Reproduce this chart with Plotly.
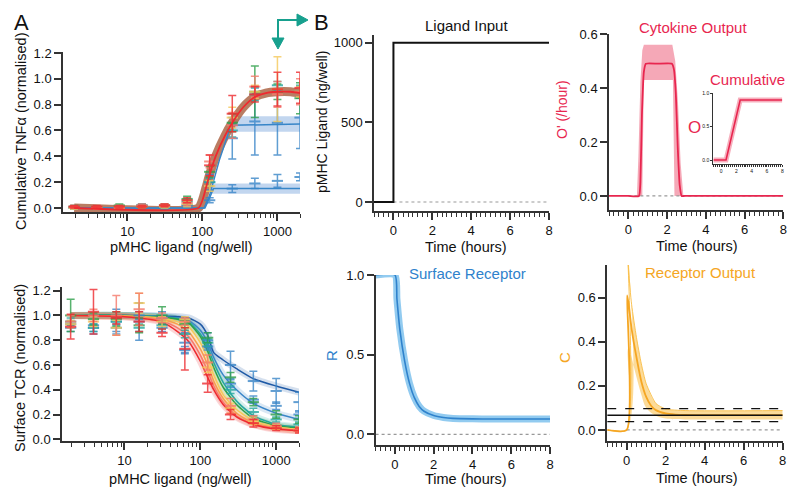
import plotly.graph_objects as go

W, H = 800, 500
OFF = 8  # page body margin offset
def px(x): return (x - OFF) / W
def py(y): return 1 - (y - OFF) / H

FONT = "Liberation Sans, Arial, sans-serif"

# ---------------- Panel A data ----------------
doses = [1.95, 3.9, 7.8, 15.6, 31.25, 62.5, 125, 250, 500, 1000, 2000]

# Cumulative TNFa error bars
tnf_red_m    = [0.01, 0.01, 0.01, 0.01, 0.02, 0.06, 0.33, 0.73, 0.88, 0.92, 0.93]
tnf_red_e    = [0.01, 0.01, 0.01, 0.01, 0.01, 0.02, 0.08, 0.14, 0.06, 0.13, 0.12]
tnf_salmon_m = [0.01, 0.00, 0.01, 0.02, 0.02, 0.04, 0.36, 0.64, 0.94, 0.88, 0.90]
tnf_salmon_e = [0.01, 0.01, 0.01, 0.01, 0.01, 0.02, 0.05, 0.10, 0.08, 0.10, 0.10]
tnf_yellow_m = [0.00, 0.00, 0.00, 0.01, 0.01, 0.03, 0.17, 0.70, 0.90, 0.92, 0.90]
tnf_yellow_e = [0.01, 0.01, 0.01, 0.01, 0.01, 0.02, 0.04, 0.08, 0.05, 0.25, 0.04]
tnf_green_m  = [0.01, 0.00, 0.02, 0.01, 0.02, 0.07, 0.28, 0.66, 0.90, 0.90, 0.85]
tnf_green_e  = [0.01, 0.01, 0.01, 0.01, 0.01, 0.02, 0.04, 0.07, 0.20, 0.06, 0.12]
tnf_teal_m   = [0.01, 0.00, 0.01, 0.02, 0.01, 0.05, 0.20, 0.60, 0.88, 0.95, 0.90]
tnf_teal_e   = [0.01, 0.01, 0.01, 0.01, 0.01, 0.02, 0.03, 0.05, 0.05, 0.03, 0.05]
tnf_blue1_m  = [0.00, 0.00, 0.00, 0.02, 0.00, 0.02, 0.20, 0.54, 0.67, 0.66, 0.70]
tnf_blue1_e  = [0.01, 0.01, 0.01, 0.01, 0.01, 0.01, 0.06, 0.16, 0.26, 0.25, 0.24]
tnf_blue2_m  = [0.00, 0.00, 0.00, 0.00, 0.00, 0.02, 0.06, 0.15, 0.19, 0.21, 0.24]
tnf_blue2_e  = [0.01, 0.01, 0.01, 0.01, 0.01, 0.01, 0.02, 0.03, 0.04, 0.05, 0.03]

# Cumulative TNFa fits
tnf_fit_x = [1.95, 88, 100, 112, 125, 150, 200, 250, 350, 500, 700, 1000, 1500, 2000]
tnf_fit_y = [0.0, 0.0, 0.06, 0.16, 0.26, 0.40, 0.56, 0.66, 0.78, 0.86, 0.89, 0.90, 0.90, 0.89]
tnf_b1_x = [1.95, 105, 125, 170, 240, 2000]
tnf_b1_y = [0.0, 0.0, 0.10, 0.38, 0.64, 0.65]
tnf_b2_x = [1.95, 108, 125, 140, 2000]
tnf_b2_y = [0.0, 0.0, 0.08, 0.15, 0.15]
tnf_b1_band_x = [240, 2000]
tnf_b1_band_lo = [0.59, 0.59]
tnf_b1_band_hi = [0.71, 0.71]
tnf_b2_band_x = [135, 2000]
tnf_b2_band_lo = [0.11, 0.11]
tnf_b2_band_hi = [0.19, 0.19]

# Surface TCR error bars
tcr_dblue_m  = [0.93, 0.92, 0.95, 0.95, 0.98, 0.78, 0.80, 0.60, 0.47, 0.39, 0.30]
tcr_dblue_e  = [0.03, 0.07, 0.10, 0.15, 0.05, 0.08, 0.06, 0.11, 0.08, 0.10, 0.08]
tcr_blue_m   = [0.90, 0.90, 0.90, 1.00, 0.90, 0.72, 0.75, 0.45, 0.32, 0.27, 0.20]
tcr_blue_e   = [0.03, 0.03, 0.03, 0.03, 0.03, 0.03, 0.03, 0.03, 0.03, 0.03, 0.03]
tcr_teal_m   = [0.95, 0.90, 0.95, 0.90, 0.92, 0.85, 0.78, 0.40, 0.22, 0.16, 0.12]
tcr_teal_e   = [0.03, 0.03, 0.03, 0.03, 0.03, 0.03, 0.03, 0.03, 0.03, 0.02, 0.02]
tcr_green_m  = [1.00, 0.97, 0.97, 0.92, 1.00, 0.93, 0.82, 0.50, 0.30, 0.20, 0.16]
tcr_green_e  = [0.13, 0.05, 0.06, 0.06, 0.07, 0.03, 0.04, 0.04, 0.03, 0.03, 0.03]
tcr_yellow_m = [0.93, 0.95, 0.90, 1.10, 0.95, 0.97, 0.58, 0.25, 0.15, 0.10, 0.08]
tcr_yellow_e = [0.03, 0.04, 0.06, 0.08, 0.04, 0.02, 0.04, 0.04, 0.03, 0.02, 0.02]
tcr_orange_m = [0.95, 1.00, 1.00, 1.05, 0.98, 0.95, 0.62, 0.27, 0.16, 0.11, 0.08]
tcr_orange_e = [0.05, 0.05, 0.16, 0.13, 0.04, 0.03, 0.06, 0.06, 0.03, 0.02, 0.02]
tcr_red_m    = [0.91, 1.03, 0.98, 0.95, 0.86, 0.73, 0.45, 0.20, 0.13, 0.09, 0.07]
tcr_red_e    = [0.10, 0.18, 0.05, 0.08, 0.03, 0.17, 0.07, 0.04, 0.03, 0.02, 0.02]

# Surface TCR fits
tcr_fit_x = [1.95, 10, 30, 50, 70, 100, 125, 150, 200, 300, 500, 1000, 2000]
tcr_fit_dblue  = [1.0, 1.0, 0.995, 0.99, 0.98, 0.93, 0.84, 0.70, 0.64, 0.57, 0.49, 0.43, 0.38]
tcr_fit_blue   = [1.0, 1.0, 0.99, 0.98, 0.96, 0.88, 0.78, 0.66, 0.52, 0.40, 0.29, 0.21, 0.16]
tcr_fit_teal   = [1.0, 1.0, 0.99, 0.975, 0.95, 0.85, 0.74, 0.62, 0.46, 0.31, 0.19, 0.12, 0.10]
tcr_fit_green  = [1.0, 1.0, 0.985, 0.97, 0.94, 0.83, 0.71, 0.58, 0.42, 0.28, 0.17, 0.11, 0.09]
tcr_fit_yellow = [1.0, 0.995, 0.98, 0.95, 0.91, 0.78, 0.65, 0.52, 0.36, 0.24, 0.15, 0.10, 0.08]
tcr_fit_orange = [1.0, 0.995, 0.97, 0.93, 0.87, 0.73, 0.60, 0.47, 0.33, 0.21, 0.13, 0.09, 0.07]
tcr_fit_salmon = [1.0, 0.99, 0.96, 0.90, 0.83, 0.68, 0.55, 0.43, 0.30, 0.19, 0.12, 0.09, 0.07]
tcr_fit_red    = [1.0, 0.99, 0.95, 0.87, 0.79, 0.63, 0.50, 0.40, 0.28, 0.18, 0.12, 0.08, 0.07]

# ---------------- Panel B data ----------------
lig_t = [-1, 0, 0, 8]
lig_v = [0, 0, 1000, 1000]

cyto_t  = [-1, 0, 0.55, 0.62, 0.70, 0.80, 0.90, 1.5, 2.25, 2.35, 2.45, 2.55, 2.65, 2.75, 2.9, 3.5, 5, 8]
cyto_v  = [0, 0, 0, 0.05, 0.30, 0.46, 0.49, 0.49, 0.49, 0.47, 0.38, 0.18, 0.04, 0, 0, 0, 0, 0]
cyto_hi_t = [-1, 0.44, 0.52, 0.62, 0.72, 0.80, 2.27, 2.42, 2.56, 2.70, 2.84, 8]
cyto_hi_v = [0, 0, 0.15, 0.42, 0.54, 0.56, 0.56, 0.50, 0.35, 0.12, 0, 0]
cyto_lo_t = [-1, 0.72, 0.80, 2.30, 2.38, 8]
cyto_lo_v = [0, 0, 0.43, 0.43, 0, 0]

cum_t = [-1, 0.65, 2.5, 8]
cum_v = [0, 0, 0.9, 0.9]

rec_t = [-1, 0, 0.1, 0.25, 0.5, 0.75, 1.0, 1.25, 1.5, 2, 2.5, 3, 4, 5, 6, 8]
rec_v = [1, 1, 0.85, 0.66, 0.46, 0.32, 0.23, 0.175, 0.145, 0.118, 0.106, 0.10, 0.097, 0.096, 0.096, 0.096]

out_t = [-1, 0, 0.02, 0.1, 0.25, 0.5, 0.75, 1.0, 1.25, 1.5, 2, 2.5, 3, 4, 8]
out_v = [0, 0, 0.61, 0.57, 0.46, 0.33, 0.22, 0.15, 0.11, 0.09, 0.075, 0.07, 0.068, 0.067, 0.067]
out_hi_t = [-1, 0, 0.01, 0.1, 0.25, 0.5, 0.75, 1.0, 1.5, 2, 3, 8]
out_hi_v = [0, 0, 0.9, 0.72, 0.57, 0.42, 0.30, 0.21, 0.12, 0.095, 0.088, 0.088]
out_lo_t = [-1, 0, 0.05, 0.1, 0.25, 0.5, 0.75, 1.0, 1.5, 2, 3, 8]
out_lo_v = [0, 0, 0.36, 0.38, 0.33, 0.24, 0.16, 0.10, 0.065, 0.052, 0.048, 0.048]
thr_t = [-1, 8]
thr_mid = [0.067, 0.067]
thr_hi = [0.097, 0.097]
thr_lo = [0.038, 0.038]
zero_t = [0, 8]
zero_t_full = [-1, 8]
zero_v = [0, 0]

# ---------------- colours ----------------
C_RED = '#ee2a2f'
C_SALMON = '#f6796a'
C_ORANGE = '#f6a04d'
C_YELLOW = '#f5c95a'
C_GREEN = '#2fa04a'
C_TEAL = '#25a7a0'
C_BLUE = '#3a86c8'
C_DBLUE = '#1f5aa6'
C_CYTO = '#e8264f'
C_REC = '#2f82cc'
C_OUT = '#f5a623'

fig = go.Figure()

def line(x, y, color, xa, ya, width=2, dash=None, shape='spline', opacity=1.0, smoothing=0.6):
    fig.add_trace(go.Scatter(x=x, y=y, mode='lines', xaxis=xa, yaxis=ya,
                             line=dict(color=color, width=width, dash=dash, shape=shape, smoothing=smoothing),
                             opacity=opacity, showlegend=False, hoverinfo='skip'))

def ebar(m, e, color, xa, ya):
    fig.add_trace(go.Scatter(x=doses, y=m, mode='markers', xaxis=xa, yaxis=ya,
                             marker=dict(symbol='line-ew', size=8, color=color, line=dict(color=color, width=2)),
                             error_y=dict(type='data', array=e, color=color, thickness=1.5, width=4),
                             opacity=0.8, showlegend=False, hoverinfo='skip'))

def band(x, lo, hi, color, xa, ya, shape='linear'):
    fig.add_trace(go.Scatter(x=x, y=lo, mode='lines', xaxis=xa, yaxis=ya,
                             line=dict(width=0, shape=shape), showlegend=False, hoverinfo='skip'))
    fig.add_trace(go.Scatter(x=x, y=hi, mode='lines', xaxis=xa, yaxis=ya, fill='tonexty',
                             fillcolor=color, line=dict(width=0, shape=shape), showlegend=False, hoverinfo='skip'))

# ---- A top ----
band(tnf_b1_band_x, tnf_b1_band_lo, tnf_b1_band_hi, 'rgba(120,165,220,0.45)', 'x', 'y')
band(tnf_b2_band_x, tnf_b2_band_lo, tnf_b2_band_hi, 'rgba(120,165,220,0.45)', 'x', 'y')
line(tnf_fit_x, tnf_fit_y, 'rgba(170,95,60,0.8)', 'x', 'y', width=9)
line(tnf_b1_x, tnf_b1_y, C_BLUE, 'x', 'y', width=1.5, shape='linear')
line(tnf_b2_x, tnf_b2_y, C_BLUE, 'x', 'y', width=1.5, shape='linear')
for m, e, c in [(tnf_blue1_m, tnf_blue1_e, C_BLUE), (tnf_blue2_m, tnf_blue2_e, C_BLUE),
                (tnf_teal_m, tnf_teal_e, C_TEAL), (tnf_green_m, tnf_green_e, C_GREEN),
                (tnf_yellow_m, tnf_yellow_e, C_YELLOW), (tnf_salmon_m, tnf_salmon_e, C_SALMON),
                (tnf_red_m, tnf_red_e, C_RED)]:
    ebar(m, e, c, 'x', 'y')
line(tnf_fit_x, tnf_fit_y, C_RED, 'x', 'y', width=1.8)

# ---- A bottom ----
tcr_fits = [(tcr_fit_dblue, C_DBLUE), (tcr_fit_blue, C_BLUE), (tcr_fit_teal, C_TEAL),
            (tcr_fit_green, C_GREEN), (tcr_fit_yellow, C_YELLOW), (tcr_fit_orange, C_ORANGE),
            (tcr_fit_salmon, C_SALMON), (tcr_fit_red, C_RED)]
for yv, c in tcr_fits:
    line(tcr_fit_x, yv, c, 'x2', 'y2', width=7, opacity=0.18)
for yv, c in tcr_fits:
    line(tcr_fit_x, yv, c, 'x2', 'y2', width=1.5)
for m, e, c in [(tcr_dblue_m, tcr_dblue_e, C_BLUE), (tcr_blue_m, tcr_blue_e, C_BLUE),
                (tcr_teal_m, tcr_teal_e, C_TEAL), (tcr_green_m, tcr_green_e, C_GREEN),
                (tcr_yellow_m, tcr_yellow_e, C_YELLOW), (tcr_orange_m, tcr_orange_e, C_SALMON),
                (tcr_red_m, tcr_red_e, C_RED)]:
    ebar(m, e, c, 'x2', 'y2')

# ---- Ligand input ----
line(zero_t, zero_v, '#999999', 'x3', 'y3', width=1.2, dash='dot', shape='linear')
line(lig_t, lig_v, '#111111', 'x3', 'y3', width=2, shape='linear')

# ---- Cytokine output ----
fig.add_trace(go.Scatter(x=cyto_lo_t, y=cyto_lo_v, mode='lines', xaxis='x4', yaxis='y4',
                         line=dict(width=0), showlegend=False, hoverinfo='skip'))
fig.add_trace(go.Scatter(x=cyto_hi_t, y=cyto_hi_v, mode='lines', xaxis='x4', yaxis='y4', fill='tonexty',
                         fillcolor='rgba(238,110,135,0.6)', line=dict(width=0), showlegend=False, hoverinfo='skip'))
line(zero_t, zero_v, '#999999', 'x4', 'y4', width=1.2, dash='dot', shape='linear')
line(cyto_t, cyto_v, C_CYTO, 'x4', 'y4', width=1.8, smoothing=0.4)

# ---- Inset cumulative ----
line(cum_t, cum_v, 'rgba(238,110,135,0.55)', 'x5', 'y5', width=5, shape='linear')
line(cum_t, cum_v, C_CYTO, 'x5', 'y5', width=1.6, shape='linear')

# ---- Surface receptor ----
line(zero_t_full, zero_v, '#999999', 'x6', 'y6', width=1.2, dash='dot', shape='linear')
line(rec_t, rec_v, 'rgba(110,185,235,0.75)', 'x6', 'y6', width=7)
line(rec_t, rec_v, C_REC, 'x6', 'y6', width=1.6)

# ---- Receptor output ----
line(zero_t, zero_v, '#999999', 'x7', 'y7', width=1.2, dash='dot', shape='linear')
fig.add_trace(go.Scatter(x=out_lo_t, y=out_lo_v, mode='lines', xaxis='x7', yaxis='y7',
                         line=dict(width=0, shape='spline'), showlegend=False, hoverinfo='skip'))
fig.add_trace(go.Scatter(x=out_hi_t, y=out_hi_v, mode='lines', xaxis='x7', yaxis='y7', fill='tonexty',
                         fillcolor='rgba(250,190,70,0.55)', line=dict(width=0, shape='spline'),
                         showlegend=False, hoverinfo='skip'))
line(out_hi_t, out_hi_v, 'rgba(250,190,70,0.9)', 'x7', 'y7', width=1, shape='spline')
line(out_t, out_v, C_OUT, 'x7', 'y7', width=1.8)
line(thr_t, thr_mid, '#111111', 'x7', 'y7', width=1.6, shape='linear')
line(thr_t, thr_hi, '#111111', 'x7', 'y7', width=1.4, dash='dash', shape='linear')
line(thr_t, thr_lo, '#111111', 'x7', 'y7', width=1.4, dash='dash', shape='linear')

# ---------------- axes ----------------
def ax(dom, rng, size=13, ticklen=7, lw=1.5, **kw):
    d = dict(domain=dom, range=rng, showline=True, linecolor='#333', linewidth=lw,
             ticks='outside', ticklen=ticklen, tickwidth=lw, tickcolor='#333', automargin=False,
             showgrid=False, zeroline=False, tickfont=dict(size=size, color='#111', family=FONT))
    d.update(kw)
    return d

log_minor = dict(ticks='outside', ticklen=4, tickwidth=1.3, tickcolor='#333',
                 tickmode='array', tickvals=[2, 3, 4, 5, 6, 7, 8, 9, 20, 30, 40, 50, 60, 70, 80, 90,
                                             200, 300, 400, 500, 600, 700, 800, 900, 2000])
time_minor = dict(ticks='outside', ticklen=4, tickwidth=1.3, tickcolor='#333', dtick=0.25, tick0=0)

layout = dict(
    template='none',
    width=W, height=H, autosize=False, margin=dict(l=0, r=0, t=0, b=0, pad=0),
    paper_bgcolor='white', plot_bgcolor='white', showlegend=False,
    font=dict(family=FONT, color='#111'),
    xaxis=ax([px(63), px(300)], [0.141, 3.301], type='log', anchor='y',
             tickmode='array', tickvals=[10, 100, 1000], ticktext=['10', '100', '1000'], minor=log_minor),
    yaxis=ax([py(212), py(51.7)], [-0.031, 1.21], anchor='x', tickmode='array',
             tickvals=[0, 0.2, 0.4, 0.6, 0.8, 1.0, 1.2], tickformat='.1f'),
    xaxis2=ax([px(62), px(299)], [0.176, 3.301], type='log', anchor='y2',
              tickmode='array', tickvals=[10, 100, 1000], ticktext=['10', '100', '1000'], minor=log_minor),
    yaxis2=ax([py(441), py(286.7)], [-0.014, 1.232], anchor='x2', tickmode='array',
              tickvals=[0, 0.2, 0.4, 0.6, 0.8, 1.0, 1.2], tickformat='.1f'),
    xaxis3=ax([px(374), px(549)], [-1, 8], anchor='y3', tickmode='array', tickvals=[0, 2, 4, 6, 8], minor=time_minor),
    yaxis3=ax([py(211), py(35)], [-56.5, 1048], anchor='x3', tickmode='array', tickvals=[0, 500, 1000]),
    xaxis4=ax([px(609), px(783.3)], [-1, 8], anchor='y4', tickmode='array', tickvals=[0, 2, 4, 6, 8], minor=time_minor),
    yaxis4=ax([py(210), py(34)], [-0.052, 0.6], anchor='x4', tickmode='array',
              tickvals=[0, 0.2, 0.4, 0.6], tickformat='.1f'),
    xaxis5=ax([px(713.4), px(782.3)], [-1, 8], size=5, ticklen=2, lw=1.2, anchor='y5', tickmode='array',
              tickvals=[0, 2, 4, 6, 8],
              minor=dict(ticks='outside', ticklen=1.5, tickwidth=1, tickcolor='#333', dtick=0.25, tick0=0)),
    yaxis5=ax([py(164), py(93.3)], [-0.06, 1.0], size=5, ticklen=2, lw=1.2, anchor='x5', tickmode='array',
              tickvals=[0, 0.5, 1.0], tickformat='.1f'),
    xaxis6=ax([px(375.6), px(550)], [-1, 8], anchor='y6', tickmode='array', tickvals=[0, 2, 4, 6, 8], minor=time_minor),
    yaxis6=ax([py(445), py(275)], [-0.067, 1.0], anchor='x6', tickmode='array',
              tickvals=[0, 0.5, 1.0], tickformat='.1f'),
    xaxis7=ax([px(607.2), px(782.7)], [-1, 8], anchor='y7', tickmode='array', tickvals=[0, 2, 4, 6, 8], minor=time_minor),
    yaxis7=ax([py(441), py(265)], [-0.05, 0.748], anchor='x7', tickmode='array',
              tickvals=[0, 0.2, 0.4, 0.6], tickformat='.1f'),
)
fig.update_layout(**layout)

# ---------------- text ----------------
def txt(x, y, s, size=14, color='#111', angle=0):
    fig.add_annotation(x=px(x), y=py(y), xref='paper', yref='paper', text=s, showarrow=False,
                       textangle=angle, font=dict(size=size, color=color, family=FONT),
                       xanchor='center', yanchor='middle')

txt(21, 22, 'A', size=22)
txt(321, 22, 'B', size=22)
txt(21, 132, 'Cumulative TNFα (normalised)', size=14.5, angle=-90)
txt(181, 247, 'pMHC ligand (ng/well)', size=14.5)
txt(20, 368, 'Surface TCR (normalised)', size=14.5, angle=-90)
txt(180, 479, 'pMHC ligand (ng/well)', size=14.5)

txt(466, 25, 'Ligand Input', size=15)
txt(322, 122, 'pMHC Ligand (ng/well)', size=14, angle=-90)
txt(466, 247, 'Time (hours)', size=14.5)

txt(693, 27, 'Cytokine Output', size=15, color=C_CYTO)
txt(562, 110, "O' (/hour)", size=14, color=C_CYTO, angle=-90)
txt(697, 246, 'Time (hours)', size=14.5)
txt(747, 79, 'Cumulative', size=15, color=C_CYTO)
txt(694, 127, 'O', size=17, color=C_CYTO)

txt(467, 273, 'Surface Receptor', size=15, color=C_REC)
txt(331, 356, 'R', size=15, color=C_REC, angle=-90)
txt(466, 479, 'Time (hours)', size=14.5)

txt(700, 272, 'Receptor Output', size=15, color=C_OUT)
txt(564, 358, 'C', size=15, color=C_OUT, angle=-90)
txt(697, 478, 'Time (hours)', size=14.5)

# green arrow
TEAL = '#17a08e'
fig.add_shape(type='path', xref='paper', yref='paper',
              path=f'M {px(278)} {py(40)} L {px(278)} {py(20)} L {px(300)} {py(20)}',
              line=dict(color=TEAL, width=2))
fig.add_shape(type='path', xref='paper', yref='paper',
              path=f'M {px(272)} {py(38)} L {px(284)} {py(38)} L {px(278)} {py(49)} Z',
              fillcolor=TEAL, line=dict(color=TEAL, width=1))
fig.add_shape(type='path', xref='paper', yref='paper',
              path=f'M {px(297)} {py(14)} L {px(297)} {py(26)} L {px(308)} {py(20)} Z',
              fillcolor=TEAL, line=dict(color=TEAL, width=1))

fig.write_html("out.html")
